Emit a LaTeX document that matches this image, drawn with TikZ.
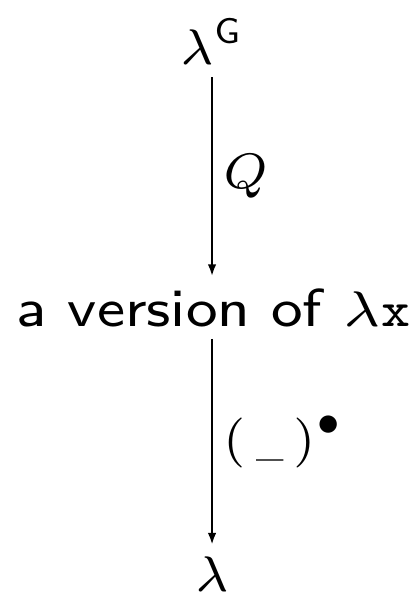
\documentclass[tikz,border=0pt]{standalone}
\usepackage{amsmath}
\usepackage{graphicx}
\usepackage{tikz}
\usetikzlibrary{arrows.meta,positioning}

\begin{document}
\begin{tikzpicture}[font=\sffamily\scriptsize, inner sep=1.5pt]
  \useasboundingbox (0pt,0pt) rectangle (58.4pt,-83.2pt);

  % the three objects, placed by their baselines
  \node[anchor=base] (lamG) at (29.7pt,-9.1pt) {$\lambda^{\mathsf{G}}$};
  \node[anchor=base, font=\sffamily\fontsize{7.5}{9}\selectfont] (version) at (29.9pt,-45.7pt)
    {\scalebox{1.11}[1]{a version of $\lambda\mathtt{x}$}};
  \node[anchor=base] (lam) at (29.7pt,-82.9pt) {$\lambda$};

  % maps between them
  \draw[-{Latex[length=1.7pt,width=1.2pt]}, line width=0.35pt] (lamG.south -| lam) -- node[right] {$Q$} (version.north -| lam);
  \draw[-{Latex[length=1.7pt,width=1.2pt]}, line width=0.35pt] (version.south -| lam) -- node[right] {$(\,\text{\scalebox{0.65}[0.8]{\rmfamily\_}}\,)^{\bullet}$} (lam.north);
\end{tikzpicture}
\end{document}
